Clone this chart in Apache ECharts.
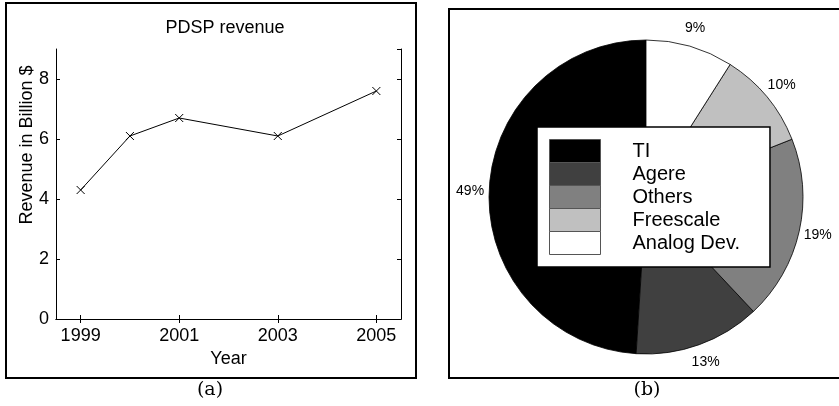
<!DOCTYPE html>
<html>
<head>
<meta charset="utf-8">
<script src="https://cdn.jsdelivr.net/npm/echarts@6/dist/echarts.min.js"></script>
<style>html,body{margin:0;padding:0;background:#fff;}#c{width:839px;height:406px;}</style>
</head>
<body>
<div id="c"></div>
<script>
// ---- data ----
const years = [1999, 2000, 2001, 2003, 2005];
const revenue = [4.3, 6.1, 6.7, 6.1, 7.6];
const yearTicks = [1999, 2001, 2003, 2005];
const vendors = ['TI', 'Agere', 'Others', 'Freescale', 'Analog Dev.'];
const shares = [49, 13, 19, 10, 9];
const shadeColors = ['#000000', '#404040', '#808080', '#c0c0c0', '#ffffff'];

const font = 'Liberation Sans, Arial, Helvetica, sans-serif';
const chart = echarts.init(document.getElementById('c'), null, {renderer: 'canvas'});

const axisLine = {show: true, lineStyle: {color: '#000', width: 1}};
const tickIn = {show: true, inside: true, length: 4, lineStyle: {color: '#000', width: 1}};

const option = {
  backgroundColor: '#fff',
  animation: false,
  grid: {left: 56, right: 438, top: 49, bottom: 87, containLabel: false},
  xAxis: [{
    type: 'value', min: 1998.5, max: 2005.5, position: 'bottom',
    axisLine: axisLine,
    axisTick: Object.assign({}, tickIn, {customValues: yearTicks}),
    axisLabel: {customValues: yearTicks, formatter: v => String(v), color: '#000', fontSize: 18, fontFamily: font, margin: 8},
    splitLine: {show: false},
    name: 'Year', nameLocation: 'middle', nameGap: 30,
    nameTextStyle: {color: '#000', fontSize: 18, fontFamily: font}
  }, {
    type: 'value', min: 1998.5, max: 2005.5, position: 'top',
    axisLine: axisLine,
    axisTick: Object.assign({}, tickIn, {customValues: yearTicks}),
    axisLabel: {show: false},
    splitLine: {show: false}
  }],
  yAxis: [{
    type: 'value', min: 0, max: 9, interval: 2, position: 'left',
    axisLine: axisLine, axisTick: tickIn,
    axisLabel: {color: '#000', fontSize: 18, fontFamily: font, margin: 7, showMaxLabel: false},
    splitLine: {show: false}
  }, {
    type: 'value', min: 0, max: 9, interval: 2, position: 'right',
    axisLine: axisLine, axisTick: tickIn,
    axisLabel: {show: false},
    splitLine: {show: false}
  }],
  legend: {
    data: vendors,
    orient: 'vertical',
    left: 537, top: 127,
    itemWidth: 51, itemHeight: 23, itemGap: -1,
    icon: 'rect',
    padding: [12, 30, 12, 12],
    backgroundColor: '#fff',
    borderColor: '#000', borderWidth: 1.5,
    selectedMode: false,
    itemStyle: {borderColor: '#555', borderWidth: 1},
    textStyle: {color: '#000', fontSize: 20, fontFamily: font, padding: [0, 0, 0, 27], lineHeight: 21}
  },
  series: [{
    type: 'line',
    xAxisIndex: 0, yAxisIndex: 0,
    data: years.map((y, i) => [y, revenue[i]]),
    lineStyle: {color: '#000', width: 1},
    symbol: 'path://M0,0L10,10M10,0L0,10',
    symbolSize: 8,
    itemStyle: {color: 'none', borderColor: '#000', borderWidth: 1},
    silent: true
  }, {
    type: 'pie',
    name: 'PDSP share',
    center: [646, 197],
    radius: [0, 157],
    startAngle: 90,
    clockwise: false,
    avoidLabelOverlap: false,
    data: vendors.map((v, i) => ({name: v, value: shares[i], itemStyle: {color: shadeColors[i]}})),
    itemStyle: {borderColor: '#000', borderWidth: 0.8},
    label: {show: false},
    labelLine: {show: false},
    silent: true
  }, {
    type: 'pie',
    name: 'labels',
    center: [646, 197],
    radius: [165, 181],
    startAngle: 90,
    clockwise: false,
    avoidLabelOverlap: false,
    data: vendors.map((v, i) => ({name: v, value: shares[i], itemStyle: {color: 'rgba(0,0,0,0)'}})),
    itemStyle: {borderWidth: 0},
    label: {show: true, position: 'inside', formatter: '{c}%', color: '#000', fontSize: 14, fontFamily: font},
    labelLine: {show: false},
    emphasis: {disabled: true},
    silent: true
  }],
  graphic: [
    {type: 'rect', shape: {x: 6, y: 3, width: 410, height: 375}, style: {fill: 'none', stroke: '#000', lineWidth: 2}, z: 100},
    {type: 'rect', shape: {x: 449, y: 9, width: 420, height: 369}, style: {fill: 'none', stroke: '#000', lineWidth: 2}, z: 100},
    {type: 'text', x: 225, y: 28, style: {text: 'PDSP revenue', fill: '#000', font: '18px ' + font, align: 'center', verticalAlign: 'middle'}},
    {type: 'text', x: 27, y: 145, rotation: Math.PI / 2, style: {text: 'Revenue in Billion $', fill: '#000', font: '18px ' + font, align: 'center', verticalAlign: 'middle'}},
    {type: 'text', x: 210, y: 390, style: {text: '(a)', fill: '#000', font: '19px "DejaVu Serif", serif', align: 'center', verticalAlign: 'middle'}},
    {type: 'text', x: 647, y: 390, style: {text: '(b)', fill: '#000', font: '19px "DejaVu Serif", serif', align: 'center', verticalAlign: 'middle'}}
  ]
};
chart.setOption(option);
</script>
</body>
</html>
